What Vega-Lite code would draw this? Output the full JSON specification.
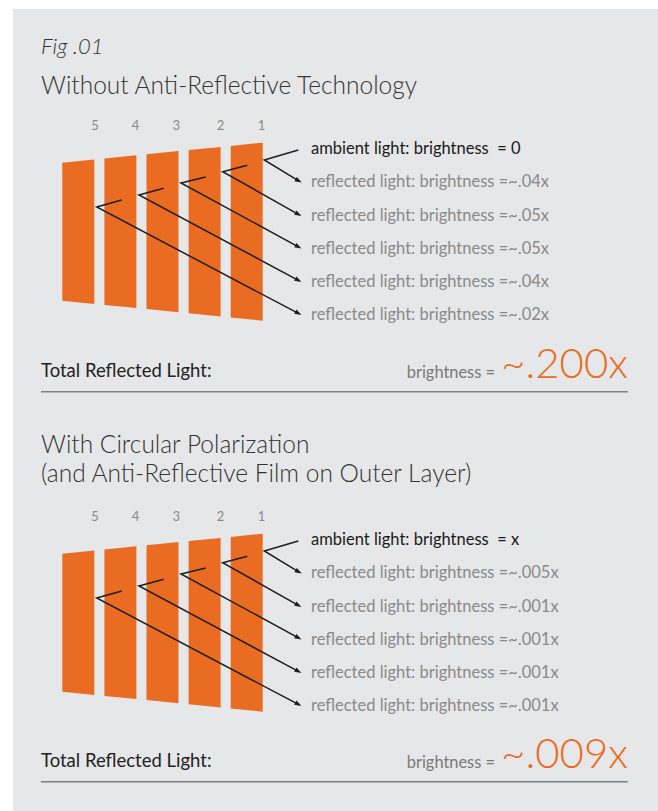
{
  "$schema": "https://vega.github.io/schema/vega-lite/v6.json",
  "width": 658,
  "height": 811,
  "autosize": {"type": "fit", "contains": "padding"},
  "padding": {"left": 13, "top": 9, "right": 0, "bottom": 0},
  "background": "#ffffff",
  "config": {"view": {"stroke": null, "fill": "#E6E7E8"}, "font": "Lato"},
  "datasets": {
    "panels": [
      {"pid": "1-5", "x": 62.3, "y": 162.7, "y2": 300.7},
      {"pid": "1-5", "x": 94.3, "y": 159.5, "y2": 303.9},
      {"pid": "1-4", "x": 104.4, "y": 158.5, "y2": 304.9},
      {"pid": "1-4", "x": 136.4, "y": 155.3, "y2": 308.1},
      {"pid": "1-3", "x": 146.5, "y": 154.3, "y2": 309.1},
      {"pid": "1-3", "x": 178.5, "y": 151.1, "y2": 312.3},
      {"pid": "1-2", "x": 188.6, "y": 150.1, "y2": 313.3},
      {"pid": "1-2", "x": 220.6, "y": 146.9, "y2": 316.5},
      {"pid": "1-1", "x": 230.7, "y": 145.9, "y2": 317.5},
      {"pid": "1-1", "x": 262.7, "y": 142.7, "y2": 320.7},
      {"pid": "2-5", "x": 62.3, "y": 553.7, "y2": 691.7},
      {"pid": "2-5", "x": 94.3, "y": 550.5, "y2": 694.9},
      {"pid": "2-4", "x": 104.4, "y": 549.5, "y2": 695.9},
      {"pid": "2-4", "x": 136.4, "y": 546.3, "y2": 699.1},
      {"pid": "2-3", "x": 146.5, "y": 545.3, "y2": 700.1},
      {"pid": "2-3", "x": 178.5, "y": 542.1, "y2": 703.3},
      {"pid": "2-2", "x": 188.6, "y": 541.1, "y2": 704.3},
      {"pid": "2-2", "x": 220.6, "y": 537.9, "y2": 707.5},
      {"pid": "2-1", "x": 230.7, "y": 536.9, "y2": 708.5},
      {"pid": "2-1", "x": 262.7, "y": 533.7, "y2": 711.7}
    ],
    "rays": [
      {"ray": "1a", "seq": 1, "x": 298.3, "y": 150},
      {"ray": "1a", "seq": 2, "x": 264.3, "y": 160},
      {"ray": "1a", "seq": 3, "x": 298.7, "y": 180.9},
      {"ray": "1b", "seq": 1, "x": 247.3, "y": 165.3},
      {"ray": "1b", "seq": 2, "x": 222.7, "y": 171.7},
      {"ray": "1b", "seq": 3, "x": 298.4, "y": 214.3},
      {"ray": "1c", "seq": 1, "x": 205.7, "y": 177},
      {"ray": "1c", "seq": 2, "x": 181, "y": 183},
      {"ray": "1c", "seq": 3, "x": 298.4, "y": 246.8},
      {"ray": "1d", "seq": 1, "x": 163.7, "y": 188.3},
      {"ray": "1d", "seq": 2, "x": 139, "y": 195},
      {"ray": "1d", "seq": 3, "x": 298.4, "y": 280.3},
      {"ray": "1e", "seq": 1, "x": 121.7, "y": 200},
      {"ray": "1e", "seq": 2, "x": 96.7, "y": 207},
      {"ray": "1e", "seq": 3, "x": 298.4, "y": 313.4},
      {"ray": "2a", "seq": 1, "x": 298.3, "y": 541},
      {"ray": "2a", "seq": 2, "x": 264.3, "y": 551},
      {"ray": "2a", "seq": 3, "x": 298.7, "y": 571.9},
      {"ray": "2b", "seq": 1, "x": 247.3, "y": 556.3},
      {"ray": "2b", "seq": 2, "x": 222.7, "y": 562.7},
      {"ray": "2b", "seq": 3, "x": 298.4, "y": 605.3},
      {"ray": "2c", "seq": 1, "x": 205.7, "y": 568},
      {"ray": "2c", "seq": 2, "x": 181, "y": 574},
      {"ray": "2c", "seq": 3, "x": 298.4, "y": 637.8},
      {"ray": "2d", "seq": 1, "x": 163.7, "y": 579.3},
      {"ray": "2d", "seq": 2, "x": 139, "y": 586},
      {"ray": "2d", "seq": 3, "x": 298.4, "y": 671.3},
      {"ray": "2e", "seq": 1, "x": 121.7, "y": 591},
      {"ray": "2e", "seq": 2, "x": 96.7, "y": 598},
      {"ray": "2e", "seq": 3, "x": 298.4, "y": 704.4}
    ],
    "rules": [
      {"x": 41, "x2": 627.7, "y": 391.7},
      {"x": 41, "x2": 627.7, "y": 781.7}
    ],
    "labels": [
      {"kind": "fig", "x": 41, "y": 54, "text": "Fig .01"},
      {"kind": "title", "x": 41, "y": 94, "text": "Without Anti-Reflective Technology"},
      {"kind": "title", "x": 41, "y": 453, "text": "With Circular Polarization"},
      {"kind": "title", "x": 41, "y": 482, "text": "(and Anti-Reflective Film on Outer Layer)"},
      {"kind": "num", "x": 95, "y": 130, "text": "5"},
      {"kind": "num", "x": 135.5, "y": 130, "text": "4"},
      {"kind": "num", "x": 176.2, "y": 130, "text": "3"},
      {"kind": "num", "x": 220.4, "y": 130, "text": "2"},
      {"kind": "num", "x": 261.5, "y": 130, "text": "1"},
      {"kind": "num", "x": 95, "y": 521, "text": "5"},
      {"kind": "num", "x": 135.5, "y": 521, "text": "4"},
      {"kind": "num", "x": 176.2, "y": 521, "text": "3"},
      {"kind": "num", "x": 220.4, "y": 521, "text": "2"},
      {"kind": "num", "x": 261.5, "y": 521, "text": "1"},
      {"kind": "ambient", "x": 311, "y": 154, "text": "ambient light: brightness\u00a0 = 0"},
      {"kind": "ambient", "x": 311, "y": 545, "text": "ambient light: brightness\u00a0 = x"},
      {"kind": "refl", "x": 311, "y": 187.3, "text": "reflected light: brightness =~.04x"},
      {"kind": "refl", "x": 311, "y": 220.7, "text": "reflected light: brightness =~.05x"},
      {"kind": "refl", "x": 311, "y": 253.5, "text": "reflected light: brightness =~.05x"},
      {"kind": "refl", "x": 311, "y": 286.7, "text": "reflected light: brightness =~.04x"},
      {"kind": "refl", "x": 311, "y": 320, "text": "reflected light: brightness =~.02x"},
      {"kind": "refl", "x": 311, "y": 578.3, "text": "reflected light: brightness =~.005x"},
      {"kind": "refl", "x": 311, "y": 611.7, "text": "reflected light: brightness =~.001x"},
      {"kind": "refl", "x": 311, "y": 644.5, "text": "reflected light: brightness =~.001x"},
      {"kind": "refl", "x": 311, "y": 677.7, "text": "reflected light: brightness =~.001x"},
      {"kind": "refl", "x": 311, "y": 711, "text": "reflected light: brightness =~.001x"},
      {"kind": "total", "x": 41, "y": 377, "text": "Total Reflected Light:"},
      {"kind": "total", "x": 41, "y": 767, "text": "Total Reflected Light:"},
      {"kind": "bright", "x": 495, "y": 377.5, "text": "brightness ="},
      {"kind": "bright", "x": 495, "y": 767.5, "text": "brightness ="},
      {"kind": "value", "x": 628, "y": 377.5, "text": "~.200x"},
      {"kind": "value", "x": 628, "y": 767.5, "text": "~.009x"}
    ]
  },
  "encoding": {
    "x": {"field": "x", "type": "quantitative", "scale": {"domain": [13, 658], "nice": false, "zero": false}, "axis": null},
    "y": {"field": "y", "type": "quantitative", "scale": {"domain": [9, 811], "nice": false, "zero": false, "reverse": true}, "axis": null}
  },
  "layer": [
    {
      "data": {"name": "panels"},
      "mark": {"type": "area", "orient": "vertical", "color": "#E96C22", "opacity": 1, "interpolate": "linear"},
      "encoding": {
        "y": {"field": "y", "type": "quantitative", "stack": null},
        "y2": {"field": "y2"},
        "detail": {"field": "pid", "type": "nominal"}
      }
    },
    {
      "data": {"name": "rays"},
      "mark": {"type": "line", "color": "#1E1E1E", "strokeWidth": 1.5, "strokeJoin": "miter"},
      "encoding": {
        "detail": {"field": "ray"},
        "order": {"field": "seq", "type": "quantitative"}
      }
    },
    {
      "data": {"name": "rays"},
      "transform": [{"filter": "datum.seq == 3"}],
      "mark": {"type": "point", "shape": "M-1,-0.7L1,0L-1,0.7Z", "filled": true, "size": 49, "angle": 29, "color": "#1E1E1E", "opacity": 1},
      "encoding": {}
    },
    {
      "data": {"name": "rules"},
      "mark": {"type": "rule", "color": "#7F7F7F", "strokeWidth": 1.5},
      "encoding": {"x2": {"field": "x2"}}
    },
    {
      "data": {"name": "labels"},
      "transform": [{"filter": "datum.kind == 'fig'"}],
      "mark": {"type": "text", "align": "left", "baseline": "alphabetic", "fontSize": 22, "fontStyle": "italic", "fontWeight": 300, "color": "#333333"},
      "encoding": {"text": {"field": "text"}}
    },
    {
      "data": {"name": "labels"},
      "transform": [{"filter": "datum.kind == 'title'"}],
      "mark": {"type": "text", "align": "left", "baseline": "alphabetic", "fontSize": 24.5, "fontWeight": 300, "color": "#333333"},
      "encoding": {"text": {"field": "text"}}
    },
    {
      "data": {"name": "labels"},
      "transform": [{"filter": "datum.kind == 'num'"}],
      "mark": {"type": "text", "align": "center", "baseline": "alphabetic", "fontSize": 13, "color": "#8A8A8A"},
      "encoding": {"text": {"field": "text"}}
    },
    {
      "data": {"name": "labels"},
      "transform": [{"filter": "datum.kind == 'ambient'"}],
      "mark": {"type": "text", "align": "left", "baseline": "alphabetic", "fontSize": 16.5, "color": "#1A1A1A"},
      "encoding": {"text": {"field": "text"}}
    },
    {
      "data": {"name": "labels"},
      "transform": [{"filter": "datum.kind == 'refl'"}],
      "mark": {"type": "text", "align": "left", "baseline": "alphabetic", "fontSize": 16.5, "color": "#8A8A8A"},
      "encoding": {"text": {"field": "text"}}
    },
    {
      "data": {"name": "labels"},
      "transform": [{"filter": "datum.kind == 'total'"}],
      "mark": {"type": "text", "align": "left", "baseline": "alphabetic", "fontSize": 18.5, "color": "#222222"},
      "encoding": {"text": {"field": "text"}}
    },
    {
      "data": {"name": "labels"},
      "transform": [{"filter": "datum.kind == 'bright'"}],
      "mark": {"type": "text", "align": "right", "baseline": "alphabetic", "fontSize": 16.4, "color": "#7A7A7A"},
      "encoding": {"text": {"field": "text"}}
    },
    {
      "data": {"name": "labels"},
      "transform": [{"filter": "datum.kind == 'value'"}],
      "mark": {"type": "text", "align": "right", "baseline": "alphabetic", "fontSize": 42, "fontWeight": 300, "color": "#E96C22"},
      "encoding": {"text": {"field": "text"}}
    }
  ]
}
